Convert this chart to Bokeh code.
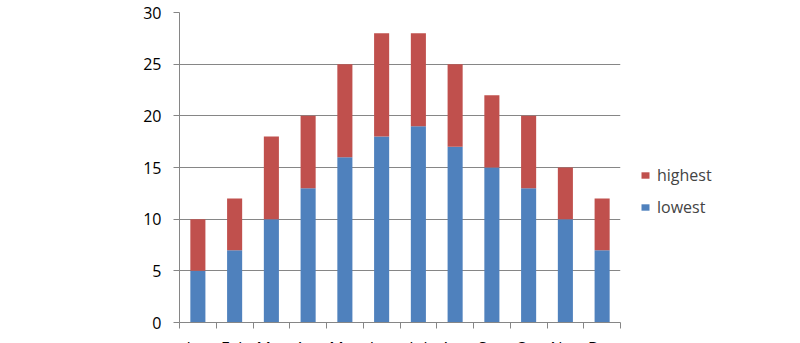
from bokeh.plotting import figure
from bokeh.models import FixedTicker, Legend, LegendItem, Range1d
from bokeh.embed import file_html
from bokeh.resources import INLINE

months = ["Jan", "Feb", "Mar", "Apr", "May", "Jun", "Jul", "Aug", "Sep", "Oct", "Nov", "Dec"]
lowest = [5, 7, 10, 13, 16, 18, 19, 17, 15, 13, 10, 7]
highest = [5, 5, 8, 7, 9, 10, 9, 8, 7, 7, 5, 5]
y_ticks = [0, 5, 10, 15, 20, 25, 30]

centers = [i + 0.5 for i in range(len(months))]
data = dict(x=centers, lowest=lowest, highest=highest)

p = figure(frame_width=441, frame_height=310, output_backend="svg", toolbar_location=None,
           x_range=Range1d(0, len(months)), y_range=Range1d(0, 30),
           min_border_left=179, min_border_right=172, min_border_top=12, min_border_bottom=0)
p.outline_line_color = None
p.background_fill_color = "white"
p.border_fill_color = "white"

rs = p.vbar_stack(["lowest", "highest"], x="x", width=0.41, source=data,
                  color=["#4F81BD", "#C0504D"], line_color=None)

grey = "#868686"
font = "Open Sans"

p.yaxis.ticker = FixedTicker(ticks=y_ticks)
p.yaxis.axis_line_color = grey
p.yaxis.major_tick_line_color = grey
p.yaxis.major_tick_out = 6
p.yaxis.major_tick_in = 0
p.yaxis.minor_tick_line_color = None
p.yaxis.major_label_standoff = 12
p.yaxis.major_label_text_font = font
p.yaxis.major_label_text_font_size = "16px"
p.yaxis.major_label_text_color = "black"

p.xaxis.ticker = FixedTicker(ticks=centers, minor_ticks=list(range(len(months) + 1)))
p.xaxis.major_label_overrides = {c: m for c, m in zip(centers, months)}
p.xaxis.axis_line_color = grey
p.xaxis.major_tick_line_color = None
p.xaxis.major_tick_out = 0
p.xaxis.major_tick_in = 0
p.xaxis.minor_tick_line_color = grey
p.xaxis.minor_tick_out = 6
p.xaxis.minor_tick_in = 0
p.xaxis.major_label_standoff = 8
p.xaxis.major_label_text_font = font
p.xaxis.major_label_text_font_size = "16px"
p.xaxis.major_label_text_color = "black"

p.xgrid.grid_line_color = None
p.ygrid.ticker = FixedTicker(ticks=y_ticks)
p.ygrid.grid_line_color = grey
p.ygrid.grid_line_width = 1

legend = Legend(items=[LegendItem(label="highest", renderers=[rs[1]]),
                       LegendItem(label="lowest", renderers=[rs[0]])],
                location=(20, 104), padding=0, margin=0, spacing=10,
                glyph_width=10, glyph_height=8, label_height=20, label_standoff=7,
                label_text_font=font, label_text_font_size="16px",
                border_line_color=None, background_fill_alpha=0)
p.add_layout(legend, "right")

open("out.html", "w").write(file_html(p, INLINE))
